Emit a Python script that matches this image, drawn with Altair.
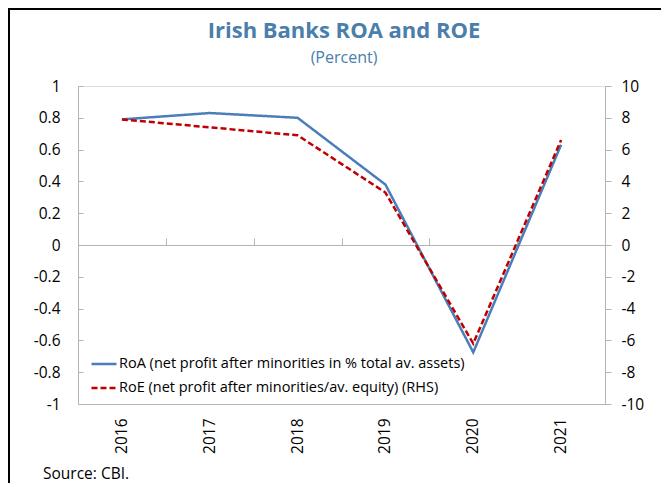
import altair as alt
import pandas as pd

# ---- data ----
years = ["2016", "2017", "2018", "2019", "2020", "2021"]
roa = [0.79, 0.83, 0.80, 0.38, -0.675, 0.63]
roe = [7.9, 7.4, 6.9, 3.3, -6.2, 6.6]
roa_label = "RoA (net profit after minorities in % total av. assets)"
roe_label = "RoE (net profit after minorities/av. equity) (RHS)"
left_ticks = [-1, -0.8, -0.6, -0.4, -0.2, 0, 0.2, 0.4, 0.6, 0.8, 1]
right_ticks = [-10, -8, -6, -4, -2, 0, 2, 4, 6, 8, 10]
title_text = ["Irish Banks ROA and ROE"]
subtitle_text = ["(Percent)"]
source_note = ["Source: CBI."]

W, H = 527, 318
FONT = "Open Sans"
GRAY = "#b4b4b4"
BLUE = "#4a7ebb"
RED = "#c00000"
TITLE_COLOR = "#4a7eab"
LABEL_SIZE = 15.5

roa_df = pd.DataFrame({"year": years, "series": roa_label, "value": roa})
roe_df = pd.DataFrame({"year": years, "series": roe_label, "value": roe})

x_scale = alt.Scale(type="band", domain=years, paddingInner=0, paddingOuter=0)
color_scale = alt.Scale(domain=[roa_label, roe_label], range=[BLUE, RED])
dash_scale = alt.Scale(domain=[roa_label, roe_label], range=[[1, 0], [6, 3]])
legend = alt.Legend(
    title=None, orient="none", legendX=12, legendY=264,
    symbolType="stroke", symbolSize=625, symbolStrokeWidth=2.5,
    labelFontSize=14.5, labelFont=FONT, labelColor="#000000",
    labelOffset=1, rowPadding=3, labelLimit=500,
)

roa_line = alt.Chart(roa_df).mark_line(strokeWidth=2.5).encode(
    x=alt.X("year:N", scale=x_scale, bandPosition=0.5,
            axis=alt.Axis(orient="bottom", title=None, labelAngle=-90,
                          ticks=False, domainColor=GRAY, labelPadding=14,
                          labelFontSize=LABEL_SIZE, labelFont=FONT, labelColor="#000000")),
    y=alt.Y("value:Q", scale=alt.Scale(domain=[-1, 1], nice=False, zero=False),
            axis=alt.Axis(orient="left", values=left_ticks, title=None, grid=False,
                          ticks=False, domainColor=GRAY, labelPadding=18,
                          labelExpr="toString(round(datum.value*10)/10)",
                          labelFontSize=LABEL_SIZE, labelFont=FONT, labelColor="#000000")),
    color=alt.Color("series:N", scale=color_scale, legend=legend),
    strokeDash=alt.StrokeDash("series:N", scale=dash_scale, legend=legend),
)

roa_ticks = alt.Chart(roa_df).mark_line(opacity=0).encode(
    x=alt.X("year:N", scale=x_scale, bandPosition=0.5,
            axis=alt.Axis(orient="top", offset=-H / 2, labels=False, title=None,
                          tickSize=7, tickColor=GRAY, tickBand="extent",
                          domainColor=GRAY)),
    y=alt.Y("value:Q", scale=alt.Scale(domain=[-1, 1], nice=False, zero=False),
            axis=alt.Axis(orient="right", offset=-W, labels=False, title=None,
                          domain=False, grid=False, values=left_ticks,
                          tickSize=5, tickColor=GRAY)),
)

roe_line = alt.Chart(roe_df).mark_line(strokeWidth=2.5).encode(
    x=alt.X("year:N", scale=x_scale, bandPosition=0.5, axis=None),
    y=alt.Y("value:Q", scale=alt.Scale(domain=[-10, 10], nice=False, zero=False),
            axis=alt.Axis(orient="right", values=right_ticks, title=None, grid=False,
                          tickSize=6, tickColor=GRAY, domainColor=GRAY,
                          labelPadding=10, labelExpr="toString(datum.value)",
                          labelFontSize=LABEL_SIZE, labelFont=FONT, labelColor="#000000")),
    color=alt.Color("series:N", scale=color_scale, legend=legend),
    strokeDash=alt.StrokeDash("series:N", scale=dash_scale, legend=legend),
)

title_mark = alt.Chart(pd.DataFrame({"t": title_text})).mark_text(
    align="center", baseline="middle", fontSize=22, font=FONT, fontWeight="bold",
    color=TITLE_COLOR
).encode(text="t:N", x=alt.value(266), y=alt.value(-55))

subtitle_mark = alt.Chart(pd.DataFrame({"t": subtitle_text})).mark_text(
    align="center", baseline="middle", fontSize=16, font=FONT, color=TITLE_COLOR
).encode(text="t:N", x=alt.value(266), y=alt.value(-28))

source_text = alt.Chart(pd.DataFrame({"t": source_note})).mark_text(
    align="left", baseline="middle", fontSize=LABEL_SIZE, font=FONT, color="#000000"
).encode(text="t:N", x=alt.value(-35), y=alt.value(388))

frame_df = pd.DataFrame({"k": [0]})
border_v = alt.Chart(frame_df).mark_rule(color="#000000", strokeWidth=2).encode(
    x=alt.value(-69), y=alt.value(-77), y2=alt.value(H + 90))
border_h = alt.Chart(frame_df).mark_rule(color="#000000", strokeWidth=2).encode(
    x=alt.value(-70), x2=alt.value(W + 60), y=alt.value(-77))

inner = alt.layer(roa_line, roa_ticks).resolve_axis(x="independent", y="independent")

chart = alt.layer(
    inner, roe_line, title_mark, subtitle_mark, source_text, border_v, border_h
).resolve_scale(
    y="independent"
).resolve_axis(
    x="independent", y="independent"
).properties(
    width=W, height=H,
    padding={"left": 70, "top": 78, "right": 56, "bottom": 79},
    autosize=alt.AutoSizeParams(type="none"),
).configure_view(stroke=GRAY, strokeWidth=1).configure(background="white")

chart.save("out.html", embed_options={"renderer": "svg", "actions": False})
